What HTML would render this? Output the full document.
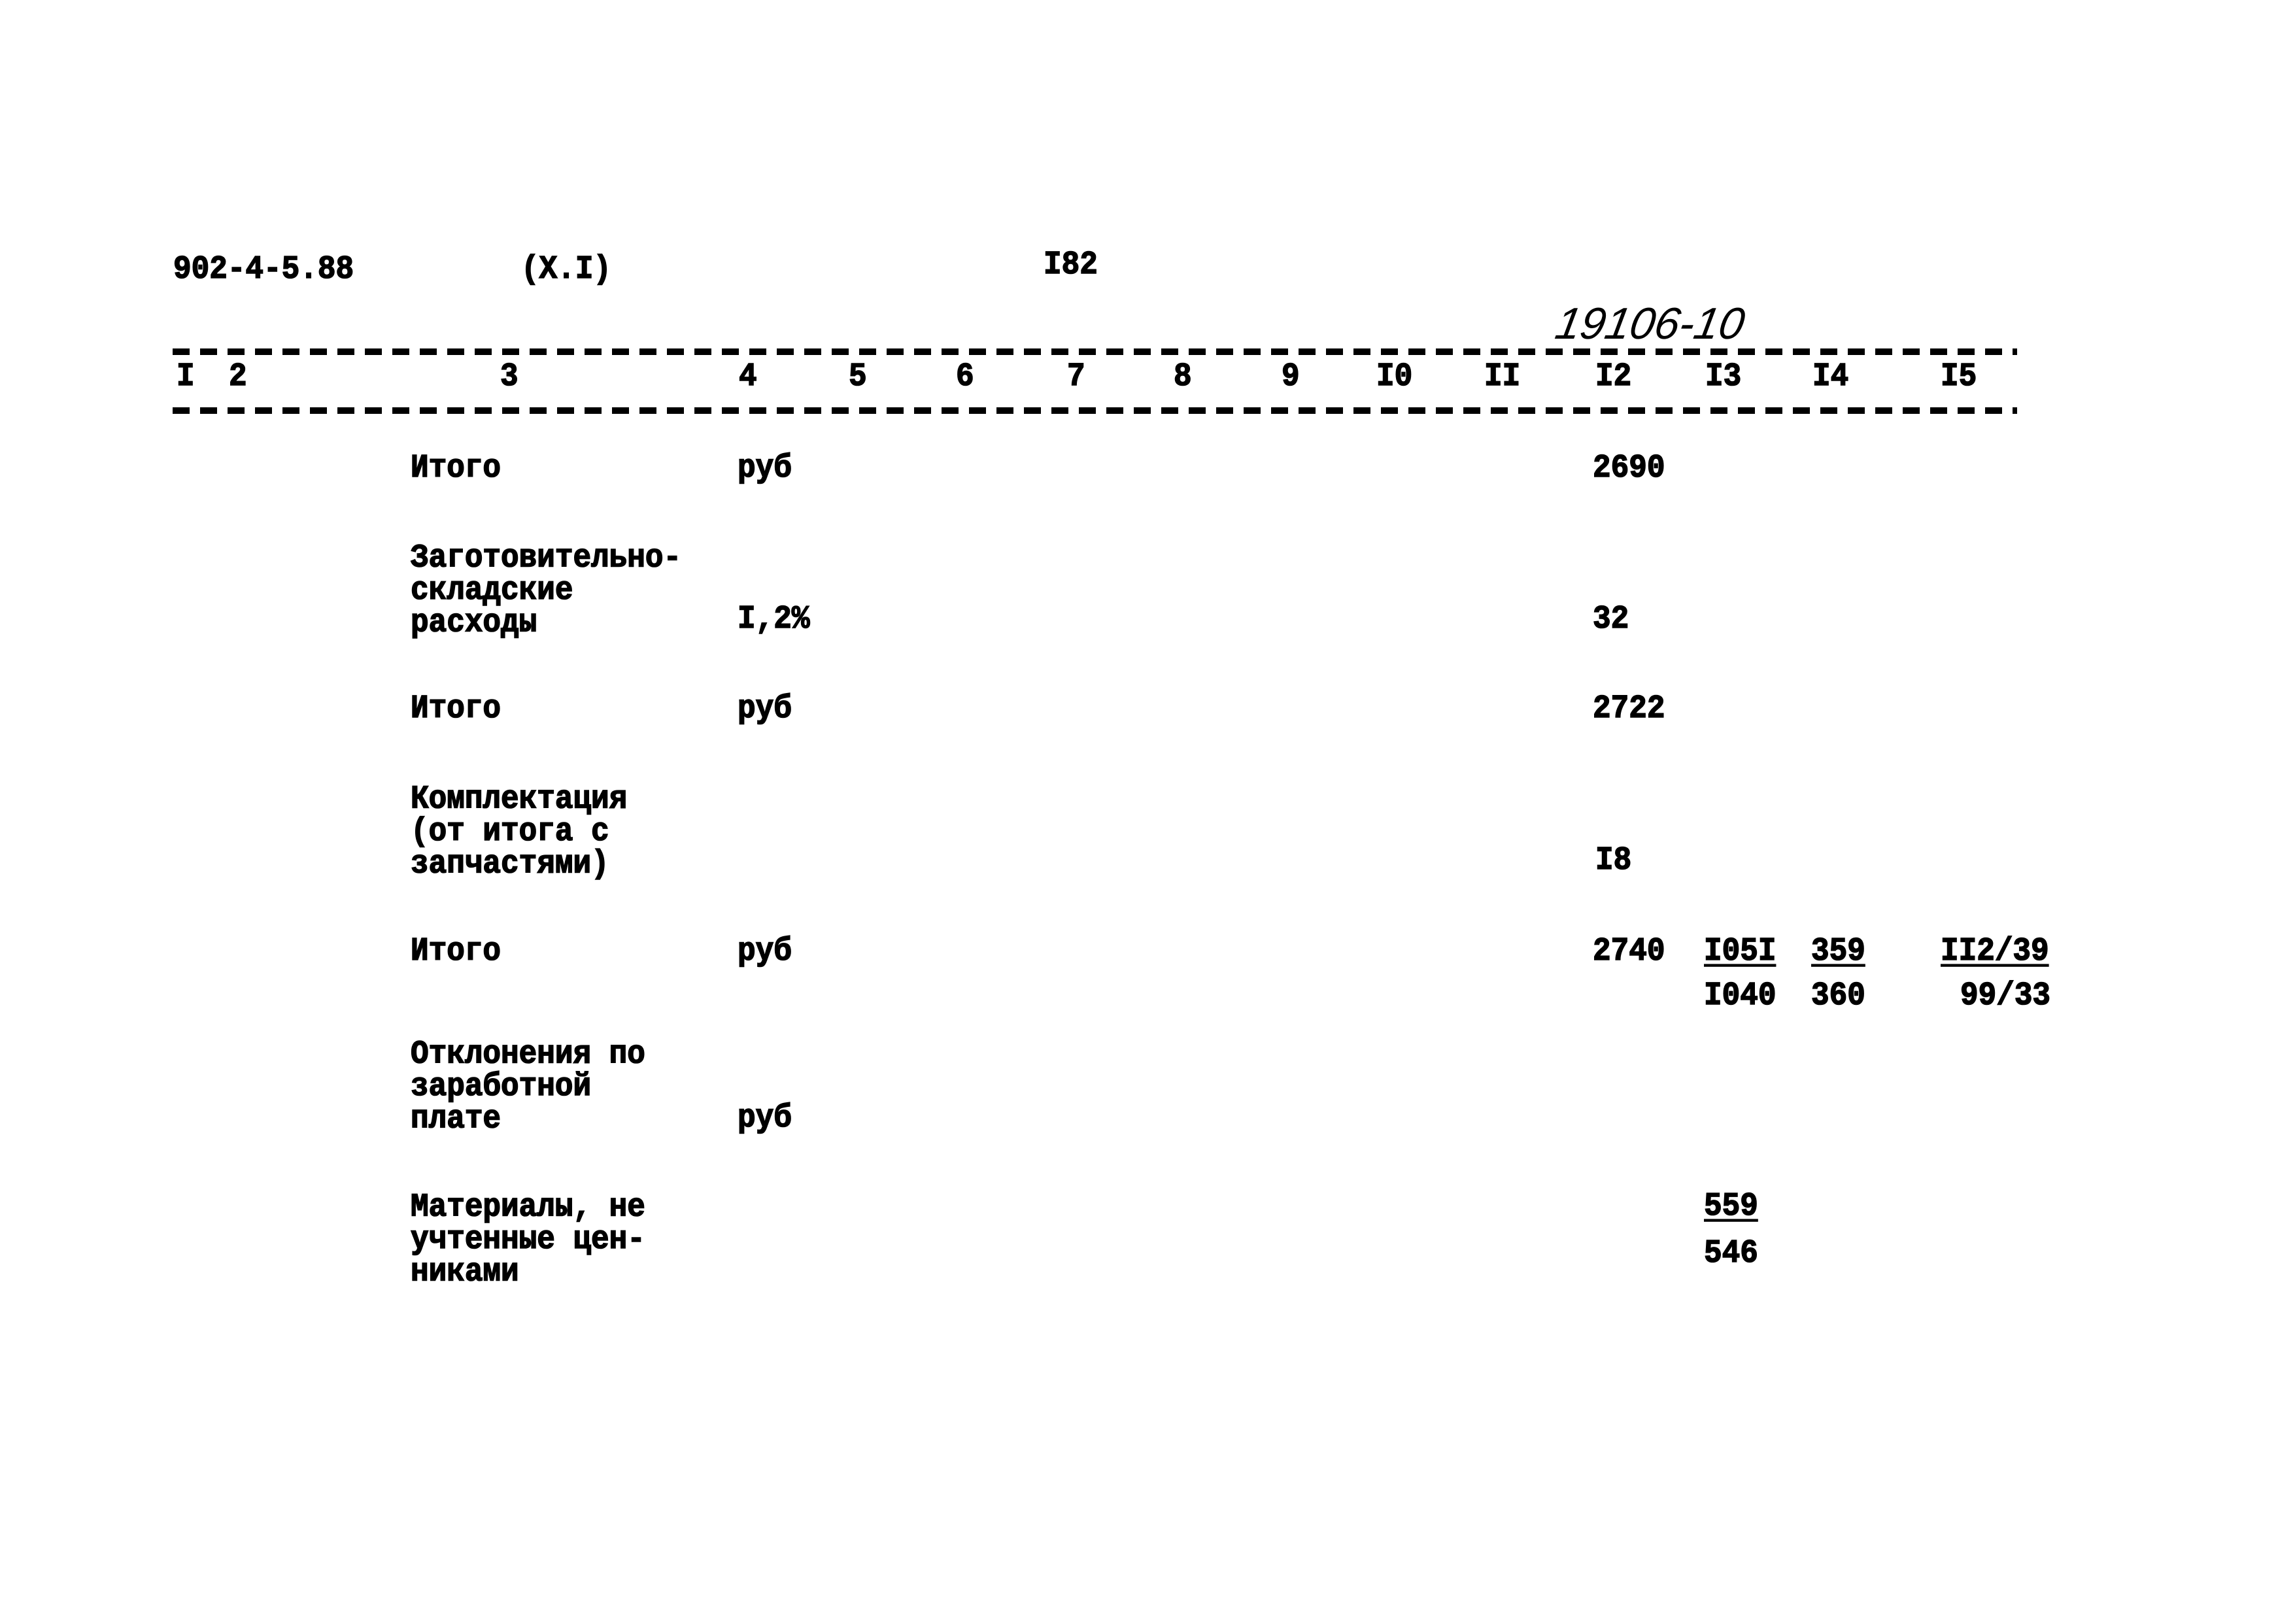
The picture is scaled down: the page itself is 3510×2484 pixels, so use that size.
<!DOCTYPE html>
<html><head><meta charset="utf-8"><style>
body{margin:0;width:3510px;height:2484px;background:#fff;position:relative;overflow:hidden}
.t{position:absolute;font-family:"Liberation Mono",monospace;font-weight:bold;font-size:46px;line-height:46px;color:#000;white-space:pre;transform:scaleY(1.08);-webkit-text-stroke:1.5px #000}
.u{text-decoration:underline;text-decoration-thickness:4px;text-underline-offset:6px}
</style></head><body>
<svg width="3510" height="2484" style="position:absolute;left:0;top:0">
<line x1="264" y1="538" x2="3085" y2="538" stroke="#000" stroke-width="10" stroke-dasharray="26 16"/>
<line x1="264" y1="628" x2="3085" y2="628" stroke="#000" stroke-width="10" stroke-dasharray="26 16"/>
</svg>
<div class="t" style="left:265px;top:389px">902-4-5.88</div>
<div class="t" style="left:797px;top:389px">(X.I)</div>
<div class="t" style="left:1596px;top:382px">I82</div>
<div class="t" style="left:2380px;top:472px;font-family:'Liberation Sans',sans-serif;font-style:italic;font-weight:normal;font-size:68px;-webkit-text-stroke:0;transform:skewX(-10deg)">19106-10</div>

<div class="t" style="left:270px;top:553px">I</div>
<div class="t" style="left:350px;top:553px">2</div>
<div class="t" style="left:765px;top:553px">3</div>
<div class="t" style="left:1130px;top:553px">4</div>
<div class="t" style="left:1298px;top:553px">5</div>
<div class="t" style="left:1462px;top:553px">6</div>
<div class="t" style="left:1632px;top:553px">7</div>
<div class="t" style="left:1795px;top:553px">8</div>
<div class="t" style="left:1960px;top:553px">9</div>
<div class="t" style="left:2105px;top:553px">I0</div>
<div class="t" style="left:2270px;top:553px">II</div>
<div class="t" style="left:2440px;top:553px">I2</div>
<div class="t" style="left:2608px;top:553px">I3</div>
<div class="t" style="left:2772px;top:553px">I4</div>
<div class="t" style="left:2968px;top:553px">I5</div>

<div class="t" style="left:628px;top:693px">Итого</div>
<div class="t" style="left:1128px;top:693px">руб</div>
<div class="t" style="left:2436px;top:693px">2690</div>

<div class="t" style="left:628px;top:834px">Заготовительно-
складские
расходы</div>
<div class="t" style="left:1128px;top:924px">I,2%</div>
<div class="t" style="left:2436px;top:924px">32</div>

<div class="t" style="left:628px;top:1061px">Итого</div>
<div class="t" style="left:1128px;top:1061px">руб</div>
<div class="t" style="left:2436px;top:1061px">2722</div>

<div class="t" style="left:628px;top:1203px">Комплектация
(от итога с
запчастями)</div>
<div class="t" style="left:2440px;top:1293px">I8</div>

<div class="t" style="left:628px;top:1432px">Итого</div>
<div class="t" style="left:1128px;top:1432px">руб</div>
<div class="t" style="left:2436px;top:1432px">2740</div>
<div class="t u" style="left:2606px;top:1432px">I05I</div>
<div class="t" style="left:2606px;top:1500px">I040</div>
<div class="t u" style="left:2770px;top:1432px">359</div>
<div class="t" style="left:2770px;top:1500px">360</div>
<div class="t u" style="left:2968px;top:1432px">II2/39</div>
<div class="t" style="left:2998px;top:1500px">99/33</div>

<div class="t" style="left:628px;top:1593px">Отклонения по
заработной
плате</div>
<div class="t" style="left:1128px;top:1687px">руб</div>

<div class="t" style="left:628px;top:1827px">Материалы, не
учтенные цен-
никами</div>
<div class="t u" style="left:2606px;top:1822px">559</div>
<div class="t" style="left:2606px;top:1894px">546</div>
</body></html>
